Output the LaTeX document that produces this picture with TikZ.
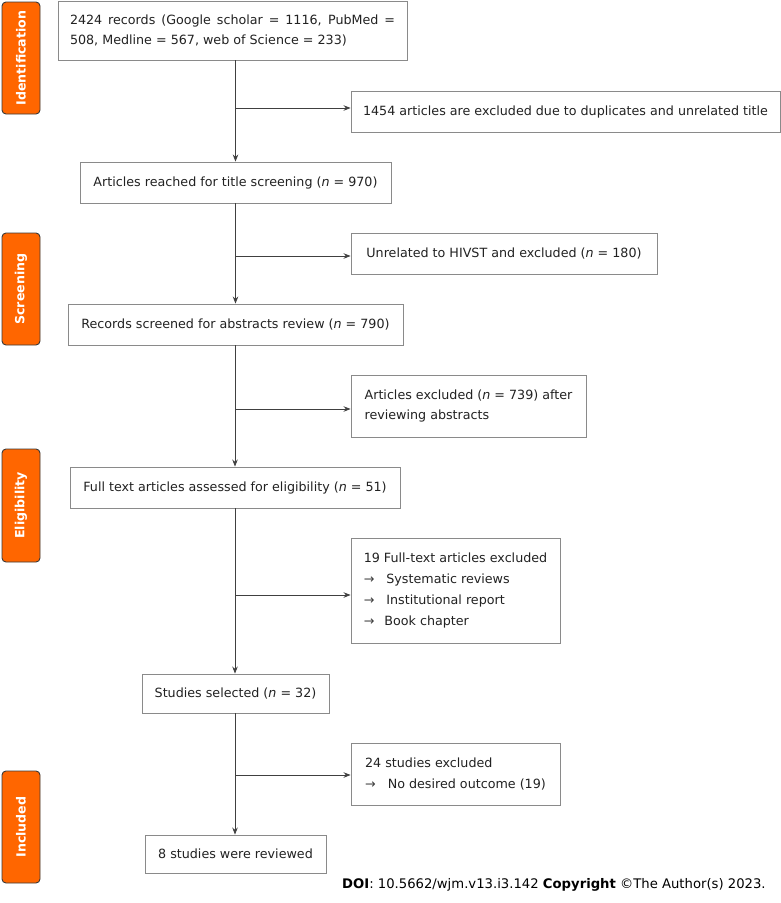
\documentclass[tikz,border=0pt]{standalone}
\usepackage{fontspec}
\setmainfont{DejaVu Sans}
\usetikzlibrary{arrows.meta}
\definecolor{taborange}{HTML}{FF6600}
\definecolor{tabedge}{HTML}{3A3A3A}
\definecolor{boxedge}{HTML}{8A8A8A}
\definecolor{linecol}{HTML}{404040}
\definecolor{txt}{HTML}{222222}
\newcommand{\smarr}[1]{{\color{linecol}→}\hspace{#1}}
\begin{document}
\begin{tikzpicture}[x=1pt,y=-1pt,
  mybox/.style={draw=boxedge, line width=0.9pt, fill=white, align=left, inner xsep=12pt, inner ysep=0pt,
    text=txt, font=\fontsize{12.7}{20.5}\selectfont},
  tabbox/.style={draw=tabedge, line width=0.9pt, fill=taborange, rounded corners=4pt, rotate=90,
    minimum height=38pt, text=white, inner sep=0pt, font=\fontsize{12.6}{14}\selectfont\bfseries},
  arr/.style={draw=linecol, line width=0.8pt, -{Stealth[length=7pt,width=5.5pt]}},
  plain/.style={draw=linecol, line width=0.8pt}
]
\useasboundingbox (0,0) rectangle (781,903);

% phase tabs
\node[tabbox, minimum width=112pt] (t1) at (21,58) {Identification};
\node[tabbox, minimum width=112pt] (t2) at (21,289) {Screening};
\node[tabbox, minimum width=113pt] (t3) at (21,505.5) {Eligibility};
\node[tabbox, minimum width=112pt] (t4) at (21,827) {Included};

% main boxes
\node[mybox, minimum width=349pt, minimum height=59pt] (b1) at (232.5,30.5)
  {\makebox[325pt][s]{2424 records (Google scholar = 1116, PubMed =}\\508, Medline = 567, web of Science = 233)};
\node[mybox, minimum width=311pt, minimum height=41pt] (b3) at (235.5,182.5)
  {Articles reached for title screening (\textit{n} = 970)};
\node[mybox, minimum width=335pt, minimum height=41pt] (b5) at (235.5,324.5)
  {Records screened for abstracts review (\textit{n} = 790)};
\node[mybox, minimum width=330pt, minimum height=41pt] (b7) at (235,487.5)
  {Full text articles assessed for eligibility (\textit{n} = 51)};
\node[mybox, minimum width=187pt, minimum height=39pt] (b9) at (235.5,693.5)
  {Studies selected (\textit{n} = 32)};
\node[mybox, minimum width=181pt, minimum height=38pt] (b11) at (235.5,854)
  {8 studies were reviewed};

% exclusion boxes
\node[mybox, minimum width=429pt, minimum height=41pt] (b2) at (565.5,111.5)
  {1454 articles are excluded due to duplicates and unrelated title};
\node[mybox, minimum width=306pt, minimum height=41pt] (b4) at (504,253.5)
  {Unrelated to HIVST and excluded (\textit{n} = 180)};
\node[mybox, minimum width=235pt, minimum height=62pt] (b6) at (468.5,406)
  {Articles excluded (\textit{n} = 739) after\\reviewing abstracts};
\node[mybox, minimum width=209pt, minimum height=105pt, font=\fontsize{12.7}{21}\selectfont] (b8) at (455.5,590.5)
  {19 Full-text articles excluded\\\smarr{12pt}Systematic reviews\\\smarr{12pt}Institutional report\\\smarr{10pt}Book chapter};
\node[mybox, minimum width=209pt, minimum height=62pt] (b10) at (455.5,774)
  {24 studies excluded\\\smarr{12pt}No desired outcome (19)};

% junction points on the main line
\coordinate (j1) at (235,108);
\coordinate (j2) at (235,256);
\coordinate (j3) at (235,409);
\coordinate (j4) at (235,595);
\coordinate (j5) at (235,775);

% main vertical flow
\draw[arr] (b3.north |- b1.south) -- (b3.north);
\draw[arr] (b5.north |- b3.south) -- (b5.north);
\draw[arr] (b7.north |- b5.south) -- (b7.north);
\draw[arr] (j4 |- b7.south) -- (j4 |- b9.north);
\draw[arr] (j5 |- b9.south) -- (j5 |- b11.north);

% branches
\draw[arr] (j1) -- (b2.west |- j1);
\draw[arr] (j2) -- (b4.west |- j2);
\draw[arr] (j3) -- (b6.west |- j3);
\draw[arr] (j4) -- (b8.west |- j4);
\draw[arr] (j5) -- (b10.west |- j5);

% footer
\node[anchor=base west, inner sep=0pt, text=black, font=\fontsize{13.2}{15}\selectfont] (doi) at (342,888)
  {\textbf{DOI}: 10.5662/wjm.v13.i3.142 \textbf{Copyright} ©The Author(s) 2023.};
\end{tikzpicture}
\end{document}
